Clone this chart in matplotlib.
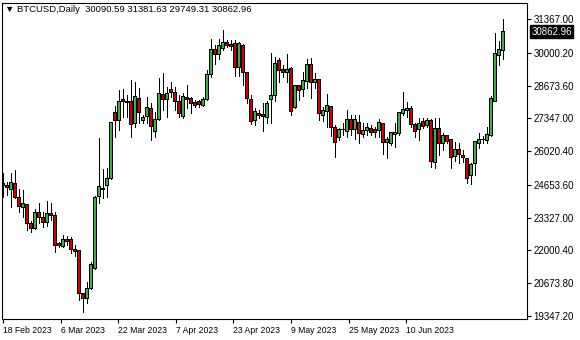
import matplotlib
matplotlib.use('Agg')
import matplotlib.pyplot as plt
import numpy as np

# daily BTCUSD candles, 18 Feb 2023 onwards
opens = [24693, 24612, 24478, 24721, 24154, 23749, 23843, 23073, 22899, 23547,
         23328, 23142, 23506, 23437, 22291, 22154, 22425, 22425, 22020, 21980,
         20266, 20064, 20469, 21279, 24179, 24519, 24612, 24924, 27597, 27257,
         28095, 28053, 28054, 27151, 28164, 27273, 27419, 27759, 26811, 27313,
         28326, 28123, 28500, 28407, 28054, 27419, 28204, 28164, 27986, 28026,
         27880, 28123, 29108, 30148, 29918, 30161, 30432, 30335, 30363, 29419,
         30282, 29201, 28095, 27257, 27556, 27488, 27394, 28123, 28269, 29675,
         29310, 29201, 29379, 27799, 28662, 28500, 28836, 29513, 28799, 28905,
         27459, 27621, 27824, 26989, 26584, 26880, 26811, 27313, 26880, 27190,
         26706, 26840, 26949, 26880, 26852, 27151, 26366, 26341, 26706, 26746,
         27556, 27662, 27759, 27083, 26880, 27216, 27054, 27257, 25572, 26949,
         26341, 26637, 26475, 25799, 26098, 25827, 25734, 25017, 25531, 26313,
         26503, 26435, 26637, 28054, 29877, 30090.59]
highs = [25138, 24786, 25126, 25260, 24478, 24450, 23883, 23195, 23668, 23936,
         23571, 24005, 23911, 23571, 22356, 22628, 22587, 22534, 22222, 21990,
         20290, 20736, 21546, 24207, 26544, 25288, 25329, 27200, 27850, 28500,
         28528, 28297, 28905, 28836, 28569, 27488, 28229, 27961, 27621, 28974,
         29176, 28634, 28836, 28634, 28297, 28391, 28703, 28229, 28095, 28095,
         28229, 29310, 30553, 30323, 30553, 30930, 30525, 30525, 30525, 30456,
         30363, 29230, 28297, 27759, 27690, 27961, 28054, 30011, 29849, 29784,
         29513, 29958, 29444, 28703, 28703, 29241, 29743, 29784, 29176, 28933,
         27824, 28338, 27850, 27083, 26960, 27151, 27690, 27488, 27488, 27488,
         27151, 27151, 27083, 27014, 27313, 27176, 26609, 26811, 27151, 27621,
         28431, 28026, 27852, 27176, 27354, 27354, 27354, 27313, 27354, 27354,
         26746, 26678, 26500, 26406, 26366, 26070, 25760, 25531, 26435, 26746,
         26637, 27014, 28257, 30796, 30497, 31381.63]
lows = [24166, 24247, 23774, 24114, 23571, 23369, 22830, 22737, 22883, 23101,
        22964, 23004, 23235, 21927, 22154, 22154, 22222, 21911, 21777, 19995,
        19521, 19861, 20440, 21250, 23911, 24114, 24183, 24895, 26609, 26880,
        27419, 27419, 26609, 27014, 27151, 27151, 27151, 26475, 26584, 27285,
        27690, 27394, 28229, 27690, 27394, 27354, 27759, 27556, 27799, 27824,
        27852, 28095, 29039, 29553, 29743, 30120, 30229, 30120, 29079, 29067,
        28703, 27961, 27123, 27083, 27354, 26852, 27151, 27151, 28067, 28836,
        29039, 28836, 27488, 27759, 28095, 28269, 28569, 28164, 28569, 27285,
        27257, 27014, 26637, 25774, 26475, 26678, 26609, 26678, 26503, 26341,
        26609, 26678, 26678, 26609, 26609, 25908, 25734, 26273, 26204, 26678,
        27488, 27419, 27014, 26609, 26475, 26949, 27014, 25369, 25329, 25868,
        26070, 26341, 25329, 25624, 25531, 25596, 24746, 24693, 25058, 26139,
        26366, 26341, 26637, 28054, 29513, 29749.31]
closes = [24612, 24531, 24762, 24154, 23774, 23883, 23101, 22883, 23547, 23328,
          23142, 23506, 23397, 22194, 22182, 22453, 22344, 22020, 21951, 20238,
          20064, 20469, 21413, 24154, 24584, 24463, 24924, 27176, 27257, 28026,
          28026, 28002, 27111, 28217, 27597, 27394, 27799, 27014, 27313, 28366,
          28095, 28366, 28391, 28026, 27556, 28229, 28123, 27961, 27852, 27921,
          28123, 29136, 30148, 29918, 30282, 30432, 30282, 30254, 29419, 30391,
          29201, 28164, 27216, 27609, 27447, 27419, 27961, 28257, 29581, 29282,
          29201, 29310, 27621, 28662, 28472, 28865, 29513, 28812, 28933, 27528,
          27650, 27852, 26989, 26366, 26880, 26920, 27313, 26908, 27313, 26720,
          26840, 26973, 26787, 26771, 27176, 26366, 26475, 26771, 26787, 27581,
          27690, 27759, 27083, 26811, 27151, 27014, 27257, 25596, 26949, 26341,
          26637, 26406, 25774, 26098, 25868, 25774, 24924, 25491, 26406, 26503,
          26475, 26706, 28164, 29958, 30120, 30862.96]

date_labels = ['18 Feb 2023', '6 Mar 2023', '22 Mar 2023', '7 Apr 2023',
               '23 Apr 2023', '9 May 2023', '25 May 2023', '10 Jun 2023']
price_ticks = [19347.20, 20673.80, 22000.40, 23327.00, 24653.60,
               26020.40, 27347.00, 28673.60, 30000.20, 31367.00]

plt.rcParams['font.family'] = ['Liberation Sans', 'DejaVu Sans']

fig = plt.figure(figsize=(5.8, 3.4), dpi=100)
ax = fig.add_axes([2 / 580, 21 / 340, 525 / 580, 316 / 340])

ymin, ymax = 19225, 32023
px = (ymax - ymin) / 316  # price per pixel, for the 1px body outline

x = np.arange(len(opens))
o = np.array(opens)
c = np.array(closes)
colors = ['#3cb043' if cc >= oo else '#d00000' for oo, cc in zip(o, c)]
body_lo = np.minimum(o, c)
body_h = np.maximum(np.abs(c - o), px * 0.6)

ax.vlines(x, lows, highs, color='black', linewidth=0.72, zorder=2, antialiased=False)
# black outer body, then coloured inner fill
ax.bar(x, body_h + px, bottom=body_lo - px / 2, width=0.8,
       color='black', linewidth=0, zorder=3, antialiased=False)
ax.bar(x, np.maximum(body_h - px, 0), bottom=body_lo + px / 2, width=0.32,
       color=colors, linewidth=0, zorder=4, antialiased=False)

ax.set_xlim(-0.25, 131)
ax.set_ylim(ymin, ymax)

ax.yaxis.tick_right()
ax.set_yticks(price_ticks)
ax.set_yticklabels([f'{v:.2f}' for v in price_ticks])
ax.tick_params(axis='y', length=3, width=0.8, pad=1.5, labelsize=7)

ax.set_xticks(np.arange(len(date_labels)) * 14.4)
ax.set_xticklabels(date_labels)
plt.setp(ax.get_xticklabels(), ha='left')
ax.tick_params(axis='x', length=3, width=0.8, pad=2, labelsize=6.2)

for s in ax.spines.values():
    s.set_linewidth(0.8)
    s.set_zorder(5)

ax.text(0.0057, 0.978,
        '\u25bc BTCUSD,Daily  %.2f %.2f %.2f %.2f' % (opens[-1], highs[-1], lows[-1], closes[-1]),
        transform=ax.transAxes, fontsize=6.8, va='center', ha='left')

ax.text(1.008, closes[-1], f'{closes[-1]:.2f}', transform=ax.get_yaxis_transform(),
        va='center', ha='left', color='white', fontsize=7,
        bbox=dict(facecolor='black', edgecolor='black', pad=1.2))

fig.savefig('out.png', dpi=100)
